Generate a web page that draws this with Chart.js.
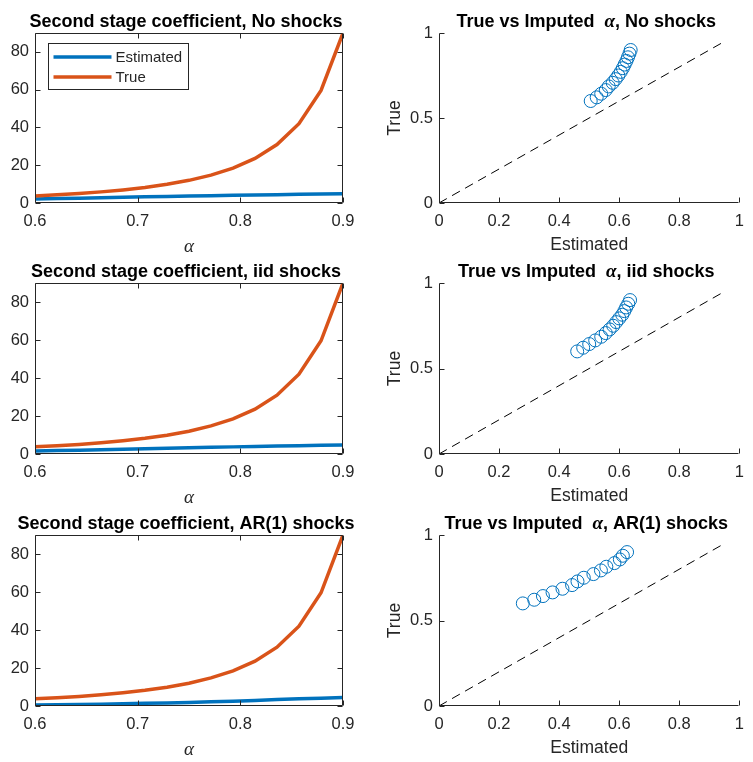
<!DOCTYPE html>
<html>
<head>
<meta charset="utf-8">
<script src="https://cdn.jsdelivr.net/npm/chart.js@4.4.1/dist/chart.umd.min.js"></script>
<style>
  html, body { margin: 0; padding: 0; background: #fff; }
  #fig { position: relative; width: 753px; height: 762px; overflow: hidden; }
  #fig canvas { position: absolute; }
</style>
</head>
<body>
<div id="fig"></div>
<script>
// true alpha grid (x of left panels, y of right panels)
const alphaGrid = [0.6, 0.6214, 0.6429, 0.6643, 0.6857, 0.7071, 0.7286, 0.75, 0.7714, 0.7929, 0.8143, 0.8357, 0.8571, 0.8786, 0.9];
const trueCoef = [3.75, 4.34, 5.04, 5.89, 6.94, 8.24, 9.89, 12.0, 14.77, 18.48, 23.61, 30.95, 42.0, 59.6, 90.0];

// estimated second stage coefficient
const estCoefNone = [2.06, 2.33, 2.55, 2.80, 2.99, 3.25, 3.46, 3.68, 3.88, 4.07, 4.23, 4.41, 4.57, 4.73, 4.87];
const estCoefIid = [1.58, 1.78, 2.0, 2.26, 2.55, 2.80, 3.04, 3.29, 3.51, 3.75, 4.01, 4.21, 4.38, 4.60, 4.80];
const estCoefAr1 = [0.54, 0.68, 0.81, 0.98, 1.18, 1.43, 1.59, 1.80, 2.18, 2.54, 2.84, 3.37, 3.80, 4.07, 4.48];

// imputed alpha (x of right panels)
const imputedNone = [0.505, 0.525, 0.54, 0.555, 0.565, 0.578, 0.588, 0.597, 0.605, 0.612, 0.618, 0.624, 0.629, 0.634, 0.638];
const imputedIid = [0.46, 0.48, 0.50, 0.52, 0.54, 0.555, 0.568, 0.58, 0.59, 0.60, 0.61, 0.617, 0.623, 0.63, 0.636];
const imputedAr1 = [0.279, 0.317, 0.346, 0.378, 0.411, 0.443, 0.461, 0.482, 0.514, 0.539, 0.557, 0.584, 0.602, 0.612, 0.626];

// 45 degree reference line
const diagLine = [0, 0.95];

const shockNames = ['No shocks', 'iid shocks', 'AR(1) shocks'];
const coefXTicks = [0.6, 0.7, 0.8, 0.9];
const coefYTicks = [0, 20, 40, 60, 80];
const scatXTicks = [0, 0.2, 0.4, 0.6, 0.8, 1];
const scatYTicks = [0, 0.5, 1];

const SANS = "'Liberation Sans', Arial, Helvetica, sans-serif";
const SERIF = "'Liberation Serif', 'Times New Roman', serif";
const BLUE = '#0072BD';
const ORANGE = '#D95319';
const AXIS = '#262626';

Chart.defaults.font.family = SANS;
Chart.defaults.color = AXIS;

// plot box rows in page pixels
const rowTop = [33, 283, 535];
const rowBottom = [203, 454, 706];

// title above the plot box, may mix fonts (for the greek alpha)
const panelTitle = {
  id: 'panelTitle',
  afterDraw(chart, args, o) {
    if (!o.parts) return;
    const { ctx, chartArea: a } = chart;
    ctx.save();
    ctx.fillStyle = '#000';
    ctx.textBaseline = 'alphabetic';
    ctx.textAlign = 'left';
    const widths = o.parts.map(p => { ctx.font = p.font; return ctx.measureText(p.text).width; });
    const total = widths.reduce((s, w) => s + w, 0);
    let x = (a.left + a.right) / 2 - total / 2 + (o.shift || 0);
    o.parts.forEach((p, i) => {
      ctx.font = p.font;
      ctx.fillText(p.text, x, a.top - o.gap);
      x += widths[i];
    });
    ctx.restore();
  }
};

// matlab style axes: inward ticks, optional full box
const matlabAxes = {
  id: 'matlabAxes',
  afterDatasetsDraw(chart, args, o) {
    const { ctx, chartArea: a, scales: { x, y } } = chart;
    const L = 5;
    const l = Math.round(a.left) + 0.5, r = Math.round(a.right) - 0.5;
    const t = Math.round(a.top) + 0.5, b = Math.round(a.bottom) - 0.5;
    ctx.save();
    ctx.strokeStyle = AXIS;
    ctx.lineWidth = 1;
    ctx.beginPath();
    ctx.moveTo(l, t); ctx.lineTo(l, b); ctx.lineTo(r, b);
    if (o.box) { ctx.lineTo(r, t); ctx.lineTo(l, t); }
    x.ticks.forEach(tk => {
      const px = Math.round(x.getPixelForValue(tk.value)) + 0.5;
      ctx.moveTo(px, b); ctx.lineTo(px, b - L);
      if (o.box) { ctx.moveTo(px, t); ctx.lineTo(px, t + L); }
    });
    y.ticks.forEach(tk => {
      const py = Math.round(y.getPixelForValue(tk.value)) + 0.5;
      ctx.moveTo(l, py); ctx.lineTo(l + L, py);
      if (o.box) { ctx.moveTo(r, py); ctx.lineTo(r - L, py); }
    });
    ctx.stroke();
    ctx.restore();
  }
};

// boxed legend in the upper left corner of the plot
const boxLegend = {
  id: 'boxLegend',
  afterDraw(chart, args, o) {
    if (!o.show) return;
    const { ctx, chartArea: a } = chart;
    const x0 = Math.round(a.left) + 13.5, y0 = Math.round(a.top) + 10.5;
    ctx.save();
    ctx.fillStyle = '#fff';
    ctx.fillRect(x0, y0, 140, 46);
    ctx.strokeStyle = AXIS;
    ctx.lineWidth = 1;
    ctx.strokeRect(x0, y0, 140, 46);
    ctx.font = '15px ' + SANS;
    ctx.textBaseline = 'middle';
    chart.data.datasets.forEach((ds, i) => {
      const cy = y0 + 13.5 + i * 20;
      ctx.strokeStyle = ds.borderColor;
      ctx.lineWidth = ds.borderWidth;
      ctx.beginPath();
      ctx.moveTo(x0 + 5, cy); ctx.lineTo(x0 + 63, cy);
      ctx.stroke();
      ctx.fillStyle = AXIS;
      ctx.fillText(ds.label, x0 + 67, cy + 1);
    });
    ctx.restore();
  }
};

function addCanvas(left, top, width, height) {
  const c = document.createElement('canvas');
  c.width = width; c.height = height;
  c.style.left = left + 'px'; c.style.top = top + 'px';
  c.style.width = width + 'px'; c.style.height = height + 'px';
  document.getElementById('fig').appendChild(c);
  return c;
}

const tickSet = arr => s => { s.ticks = arr.map(v => ({ value: v })); };
const pts = (xs, ys) => xs.map((x, i) => ({ x: x, y: ys[i] }));

function coefPanel(row, est) {
  const padTop = 40, axisH = 55;
  const top = rowTop[row] - padTop;
  const c = addCanvas(0, top, 365, rowBottom[row] - top + axisH);
  new Chart(c, {
    type: 'line',
    data: {
      datasets: [
        { label: 'Estimated', data: pts(alphaGrid, est), borderColor: BLUE, backgroundColor: BLUE, borderWidth: 3.5, pointRadius: 0, order: 1 },
        { label: 'True', data: pts(alphaGrid, trueCoef), borderColor: ORANGE, backgroundColor: ORANGE, borderWidth: 3.5, pointRadius: 0, order: 0 }
      ]
    },
    options: {
      animation: false, responsive: false, devicePixelRatio: 1,
      layout: { padding: { top: padTop, right: 22, bottom: 0, left: 0 } },
      plugins: {
        legend: { display: false }, tooltip: { enabled: false },
        panelTitle: { gap: 6.5, shift: -3, parts: [{ text: 'Second stage coefficient, ' + shockNames[row], font: 'bold 18px ' + SANS }] },
        matlabAxes: { box: true },
        boxLegend: { show: row === 0 }
      },
      scales: {
        x: {
          type: 'linear', min: 0.6, max: 0.9,
          afterBuildTicks: tickSet(coefXTicks),
          afterFit: s => { s.height = axisH; },
          grid: { display: false, drawTicks: false }, border: { display: false },
          ticks: { padding: 9, font: { size: 16.5 }, maxRotation: 0, callback: v => String(v) },
          title: { display: true, text: 'α', padding: 0, color: AXIS, font: { family: SERIF, style: 'italic', size: 19 } }
        },
        y: {
          min: 0, max: 90,
          afterBuildTicks: tickSet(coefYTicks),
          afterFit: s => { s.width = 35; },
          grid: { display: false, drawTicks: false }, border: { display: false },
          ticks: { padding: 6, font: { size: 16.5 }, callback: v => String(v) }
        }
      }
    },
    plugins: [panelTitle, matlabAxes, boxLegend]
  });
}

function scatterPanel(row, imputed) {
  const padTop = 40, axisH = 53;
  const top = rowTop[row] - padTop;
  const c = addCanvas(385, top, 368, rowBottom[row] - top + axisH);
  new Chart(c, {
    type: 'scatter',
    data: {
      datasets: [
        { label: 'Imputed', data: pts(imputed, alphaGrid), borderColor: BLUE, backgroundColor: 'rgba(0,0,0,0)', borderWidth: 1, pointRadius: 6.5, pointStyle: 'circle' },
        { label: '45 degree', data: pts(diagLine, diagLine), showLine: true, borderColor: '#000', borderWidth: 1, borderDash: [9, 6], pointRadius: 0 }
      ]
    },
    options: {
      animation: false, responsive: false, devicePixelRatio: 1,
      layout: { padding: { top: padTop, right: 6, bottom: 0, left: 0 } },
      plugins: {
        legend: { display: false }, tooltip: { enabled: false },
        panelTitle: { gap: 6.5, shift: -3, parts: [
          { text: 'True vs Imputed  ', font: 'bold 18px ' + SANS },
          { text: 'α', font: 'italic bold 19px ' + SERIF },
          { text: ', ' + shockNames[row], font: 'bold 18px ' + SANS }
        ] },
        matlabAxes: { box: false }
      },
      scales: {
        x: {
          type: 'linear', min: 0, max: 1,
          afterBuildTicks: tickSet(scatXTicks),
          afterFit: s => { s.height = axisH; },
          grid: { display: false, drawTicks: false }, border: { display: false },
          ticks: { padding: 9, font: { size: 16.5 }, maxRotation: 0, callback: v => String(v) },
          title: { display: true, text: 'Estimated', padding: 0, color: AXIS, font: { size: 17.5 } }
        },
        y: {
          min: 0, max: 1,
          afterBuildTicks: tickSet(scatYTicks),
          afterFit: s => { s.width = 54; },
          grid: { display: false, drawTicks: false }, border: { display: false },
          ticks: { padding: 6, font: { size: 16.5 }, callback: v => String(v) },
          title: { display: true, text: 'True', padding: 0, color: AXIS, font: { size: 17.5 } }
        }
      }
    },
    plugins: [panelTitle, matlabAxes]
  });
}

coefPanel(0, estCoefNone);
coefPanel(1, estCoefIid);
coefPanel(2, estCoefAr1);
scatterPanel(0, imputedNone);
scatterPanel(1, imputedIid);
scatterPanel(2, imputedAr1);
</script>
</body>
</html>
